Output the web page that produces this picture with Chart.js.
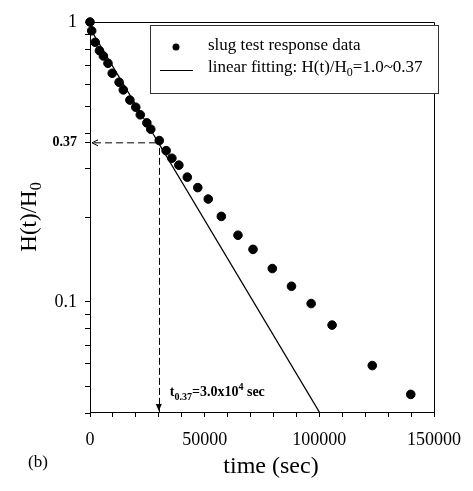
<!DOCTYPE html>
<html>
<head>
<meta charset="utf-8">
<script src="https://cdn.jsdelivr.net/npm/chart.js@4.4.1/dist/chart.umd.min.js"></script>
<style>
  html, body { margin: 0; padding: 0; background: #fff; }
  #wrap { width: 473px; height: 491px; }
</style>
</head>
<body>
<div id="wrap"><canvas id="slugChart" width="473" height="491"></canvas></div>
<script>
// slug test data
const times = [0, 730, 2270, 4130, 5840, 7830, 9700, 12690, 14530, 17390, 19950, 21920, 24790, 26500,
  30200, 33200, 35700, 38740, 42430, 47000, 51570, 57260, 64530, 71080, 79490, 87860, 96430, 105560, 123080, 139870];
const ratios = [1, 0.93, 0.846, 0.79, 0.756, 0.712, 0.656, 0.609, 0.572, 0.526, 0.496, 0.466, 0.436, 0.414,
  0.377, 0.347, 0.326, 0.308, 0.279, 0.256, 0.233, 0.202, 0.173, 0.154, 0.1315, 0.1137, 0.0986, 0.0826, 0.0592, 0.0467];

// linear fitting line
const fitTimes = [0, 100000];
const fitRatios = [0.95, 0.0404];

// t0.37 guide
const t037 = 30000;
const h037 = 0.37;

const xMin = 0, xMax = 150000, xStep = 10000;
const xLabelTicks = [0, 50000, 100000, 150000];
const yMin = 0.0404, yMax = 1;
const yTicks = [0.04, 0.05, 0.06, 0.07, 0.08, 0.09, 0.1, 0.2, 0.3, 0.4, 0.5, 0.6, 0.7, 0.8, 0.9, 1, 0.37];
const yLabelTicks = { 1: '1', 0.1: '0.1', 0.37: '0.37' };

const legendLabels = ['slug test response data', 'linear fitting: H(t)/H', '=1.0~0.37'];

const serif = '"Liberation Serif", "DejaVu Serif", serif';

// draws text with a subscript part
function subText(ctx, x, y, parts, size) {
  let cx = x;
  parts.forEach(p => {
    ctx.font = (p.bold ? 'bold ' : '') + (p.sub || p.sup ? Math.round(size * 0.7) : size) + 'px ' + serif;
    const dy = p.sub ? size * 0.3 : (p.sup ? -size * 0.4 : 0);
    ctx.fillText(p.t, cx, y + dy);
    cx += ctx.measureText(p.t).width;
  });
  return cx - x;
}
function measureParts(ctx, parts, size) {
  let w = 0;
  parts.forEach(p => {
    ctx.font = (p.bold ? 'bold ' : '') + (p.sub || p.sup ? Math.round(size * 0.7) : size) + 'px ' + serif;
    w += ctx.measureText(p.t).width;
  });
  return w;
}

const extras = {
  id: 'extras',
  afterDraw(chart) {
    const ctx = chart.ctx;
    const a = chart.chartArea;
    const xs = chart.scales.x, ys = chart.scales.y;
    ctx.save();
    // frame top/right
    ctx.strokeStyle = '#000';
    ctx.lineWidth = 1;
    ctx.beginPath();
    ctx.moveTo(a.left, a.top + 0.5);
    ctx.lineTo(a.right + 0.5, a.top + 0.5);
    ctx.lineTo(a.right + 0.5, a.bottom);
    ctx.stroke();

    // arrowheads
    const px = xs.getPixelForValue(t037);
    const py = ys.getPixelForValue(h037);
    ctx.lineWidth = 1;
    ctx.beginPath();
    ctx.moveTo(a.left + 8, py - 3); ctx.lineTo(a.left + 2, py); ctx.lineTo(a.left + 8, py + 3);
    ctx.stroke();
    ctx.beginPath();
    ctx.moveTo(px - 3, a.bottom - 8); ctx.lineTo(px, a.bottom - 1); ctx.lineTo(px + 3, a.bottom - 8);
    ctx.closePath();
    ctx.fillStyle = '#000';
    ctx.fill();

    // annotation
    ctx.fillStyle = '#000';
    ctx.textBaseline = 'alphabetic';
    ctx.textAlign = 'left';
    subText(ctx, px + 11, a.bottom - 16, [
      { t: 't', bold: true }, { t: '0.37', bold: true, sub: true },
      { t: '=3.0x10', bold: true }, { t: '4', bold: true, sup: true }, { t: ' sec', bold: true }
    ], 14);

    // legend box
    const lx = 150, ly = 25, lw = 288, lh = 68;
    ctx.fillStyle = '#fff';
    ctx.fillRect(lx, ly, lw, lh);
    ctx.strokeStyle = '#333';
    ctx.strokeRect(lx + 0.5, ly + 0.5, lw, lh);
    ctx.fillStyle = '#000';
    ctx.beginPath();
    ctx.arc(176, 47, 3.5, 0, Math.PI * 2);
    ctx.fill();
    ctx.strokeStyle = '#000';
    ctx.beginPath();
    ctx.moveTo(160, 70.5); ctx.lineTo(193, 70.5);
    ctx.stroke();
    ctx.textBaseline = 'middle';
    ctx.font = '17px ' + serif;
    ctx.fillText(legendLabels[0], 208, 46);
    subText(ctx, 208, 68, [{ t: legendLabels[1] }, { t: '0', sub: true }, { t: legendLabels[2] }], 17);

    // y title (rotated)
    ctx.save();
    ctx.translate(30, 217);
    ctx.rotate(-Math.PI / 2);
    const yParts = [{ t: 'H(t)/H' }, { t: '0', sub: true }];
    const yw = measureParts(ctx, yParts, 23);
    subText(ctx, -yw / 2, 0, yParts, 23);
    ctx.restore();

    // x title
    ctx.textAlign = 'center';
    ctx.font = '24px ' + serif;
    ctx.fillText('time (sec)', 271, 467);
    ctx.font = '17px ' + serif;
    ctx.fillText('(b)', 38, 463);
    ctx.restore();
  }
};

const ctx = document.getElementById('slugChart').getContext('2d');
new Chart(ctx, {
  type: 'scatter',
  data: {
    datasets: [
      {
        label: 'slug test response data',
        data: times.map((t, i) => ({ x: t, y: ratios[i] })),
        backgroundColor: '#000',
        borderColor: '#000',
        pointRadius: 4.3,
        pointHoverRadius: 4.3,
        clip: false
      },
      {
        label: 'linear fitting',
        type: 'line',
        data: fitTimes.map((t, i) => ({ x: t, y: fitRatios[i] })),
        borderColor: '#000',
        borderWidth: 1.3,
        pointRadius: 0,
        fill: false
      },
      {
        label: 'h guide',
        type: 'line',
        data: [{ x: t037 - 1200, y: h037 }, { x: 400, y: h037 }],
        borderColor: '#000',
        borderWidth: 1,
        borderDash: [7, 4],
        pointRadius: 0
      },
      {
        label: 't guide',
        type: 'line',
        data: [{ x: t037 + 300, y: 0.355 }, { x: t037 + 300, y: yMin }],
        borderColor: '#000',
        borderWidth: 1,
        borderDash: [7, 3],
        pointRadius: 0
      }
    ]
  },
  options: {
    responsive: false,
    animation: false,
    events: [],
    layout: { padding: { left: 0, top: 22, right: 32, bottom: 0 } },
    plugins: { legend: { display: false }, tooltip: { enabled: false } },
    scales: {
      x: {
        type: 'linear',
        min: xMin, max: xMax,
        afterFit: s => { s.height = 79; },
        border: { display: true, color: '#000', width: 1 },
        grid: { display: true, drawOnChartArea: false, drawTicks: true, tickLength: 5, color: '#000' },
        ticks: {
          stepSize: xStep,
          padding: 12,
          color: '#000',
          maxRotation: 0,
          autoSkip: false,
          font: { family: serif, size: 18 },
          callback: v => xLabelTicks.includes(v) ? String(v) : ''
        }
      },
      y: {
        type: 'logarithmic',
        min: yMin, max: yMax,
        afterFit: s => { s.width = 90; },
        afterBuildTicks: s => { s.ticks = yTicks.map(v => ({ value: v })); },
        border: { display: true, color: '#000', width: 1 },
        grid: { display: true, drawOnChartArea: false, drawTicks: true, tickLength: 5, color: '#000' },
        ticks: {
          padding: 8,
          color: '#000',
          autoSkip: false,
          font: c => (c.tick && c.tick.value === 0.37)
            ? { family: serif, size: 14, weight: 'bold' }
            : { family: serif, size: 18 },
          callback: v => yLabelTicks[v] !== undefined ? yLabelTicks[v] : ''
        }
      }
    }
  },
  plugins: [extras]
});
</script>
</body>
</html>
